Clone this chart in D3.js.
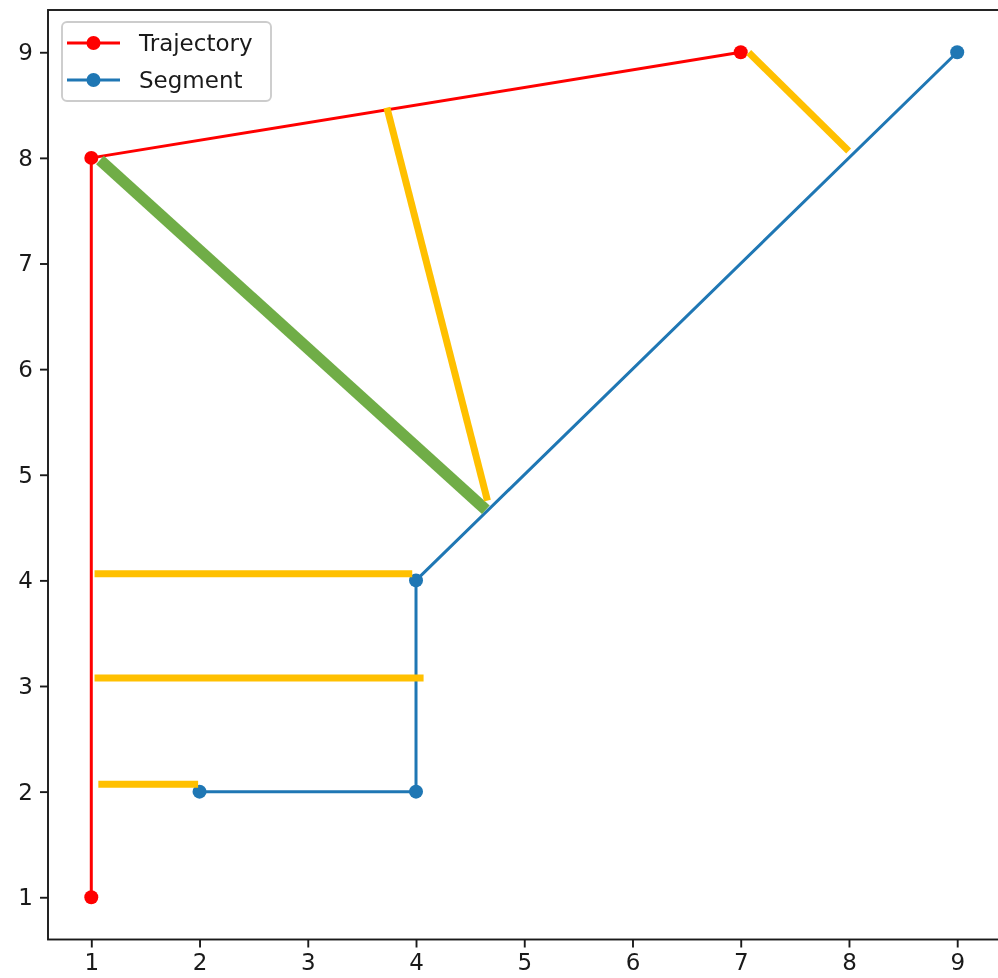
<!DOCTYPE html>
<html>
<head>
<meta charset="utf-8">
<script src="https://cdn.jsdelivr.net/npm/d3@7"></script>
<style>
  html, body { margin: 0; padding: 0; background: #fff; }
  svg { display: block; filter: blur(0.45px); }
  text { font-family: "DejaVu Sans", sans-serif; fill: #1a1a1a; }
</style>
</head>
<body>
<svg id="chart" width="998" height="978"></svg>
<script>
// Trajectory polyline (red)
const trajX = [1, 1, 7];
const trajY = [1, 8, 9];

// Segment polyline (blue)
const segX = [2, 4, 4, 9];
const segY = [2, 2, 4, 9];

// Connector lines between trajectory and segment (yellow): [x1, y1, x2, y2]
const connectors = [
  [1.065, 2.071, 1.987, 2.071],
  [1.03, 3.076, 4.07, 3.076],
  [1.03, 4.062, 3.965, 4.062],
  [3.731, 8.476, 4.66, 4.756],
  [7.074, 8.997, 7.997, 8.065]
];

// Highlighted distance line (green): [x1, y1, x2, y2]
const highlight = [1.08, 7.98, 4.645, 4.668];

// Axis ticks
const xTicks = [1, 2, 3, 4, 5, 6, 7, 8, 9];
const yTicks = [1, 2, 3, 4, 5, 6, 7, 8, 9];

const legendItems = ["Trajectory", "Segment"];

const colors = { traj: "#ff0000", seg: "#1f77b4", conn: "#ffc000", high: "#70ad47" };

const svg = d3.select("#chart");

const plot = { left: 48, right: 1000.5, top: 10, bottom: 939.5 };

const x = d3.scaleLinear().domain([0.6, 9.4]).range([plot.left, plot.right]);
const y = d3.scaleLinear().domain([0.6, 9.4]).range([plot.bottom, plot.top]);

const line = d3.line().x(d => x(d[0])).y(d => y(d[1]));

const trajPts = trajX.map((v, i) => [v, trajY[i]]);
const segPts = segX.map((v, i) => [v, segY[i]]);

const seriesWidth = 3;
const g = svg.append("g");

function drawSeries(pts, color) {
  g.append("path")
    .attr("d", line(pts))
    .attr("fill", "none")
    .attr("stroke", color)
    .attr("stroke-width", seriesWidth)
    .attr("stroke-linejoin", "round");
  g.selectAll(null).data(pts).enter().append("circle")
    .attr("cx", d => x(d[0]))
    .attr("cy", d => y(d[1]))
    .attr("r", 7)
    .attr("fill", color);
}

drawSeries(trajPts, colors.traj);
drawSeries(segPts, colors.seg);

// green distance line
g.append("line")
  .attr("x1", x(highlight[0])).attr("y1", y(highlight[1]))
  .attr("x2", x(highlight[2])).attr("y2", y(highlight[3]))
  .attr("stroke", colors.high)
  .attr("stroke-width", 11.5);

// yellow connectors
g.selectAll(null).data(connectors).enter().append("line")
  .attr("x1", d => x(d[0])).attr("y1", d => y(d[1]))
  .attr("x2", d => x(d[2])).attr("y2", d => y(d[3]))
  .attr("stroke", colors.conn)
  .attr("stroke-width", 7);

// axes
const fontSize = 23;
const xAxis = d3.axisBottom(x).tickValues(xTicks).tickFormat(d3.format("d")).tickSize(8).tickPadding(6);
const yAxis = d3.axisLeft(y).tickValues(yTicks).tickFormat(d3.format("d")).tickSize(8).tickPadding(7);

const gx = svg.append("g").attr("transform", `translate(0,${plot.bottom})`).call(xAxis);
const gy = svg.append("g").attr("transform", `translate(${plot.left},0)`).call(yAxis);

[gx, gy].forEach(a => {
  a.select(".domain").remove();
  a.selectAll(".tick line").attr("stroke", "#1a1a1a").attr("stroke-width", 1.9);
  a.selectAll(".tick text").style("font-size", fontSize + "px").attr("font-family", "DejaVu Sans").attr("fill", "#1a1a1a");
});

// spines
svg.append("rect")
  .attr("x", plot.left).attr("y", plot.top)
  .attr("width", plot.right - plot.left).attr("height", plot.bottom - plot.top)
  .attr("fill", "none").attr("stroke", "#1a1a1a").attr("stroke-width", 1.9);

// legend
const leg = svg.append("g");
leg.append("rect")
  .attr("x", 62).attr("y", 22).attr("width", 209).attr("height", 79).attr("rx", 5)
  .attr("fill", "#fff").attr("fill-opacity", 0.8)
  .attr("stroke", "#cccccc").attr("stroke-width", 1.9);

const legColors = [colors.traj, colors.seg];
legendItems.forEach((name, i) => {
  const cy = 43 + i * 37;
  leg.append("line").attr("x1", 67).attr("x2", 120).attr("y1", cy).attr("y2", cy)
    .attr("stroke", legColors[i]).attr("stroke-width", seriesWidth);
  leg.append("circle").attr("cx", 93.5).attr("cy", cy).attr("r", 7).attr("fill", legColors[i]);
  leg.append("text").attr("x", 139).attr("y", cy).attr("dy", "0.36em")
    .style("font-size", fontSize + "px").text(name);
});
</script>
</body>
</html>
